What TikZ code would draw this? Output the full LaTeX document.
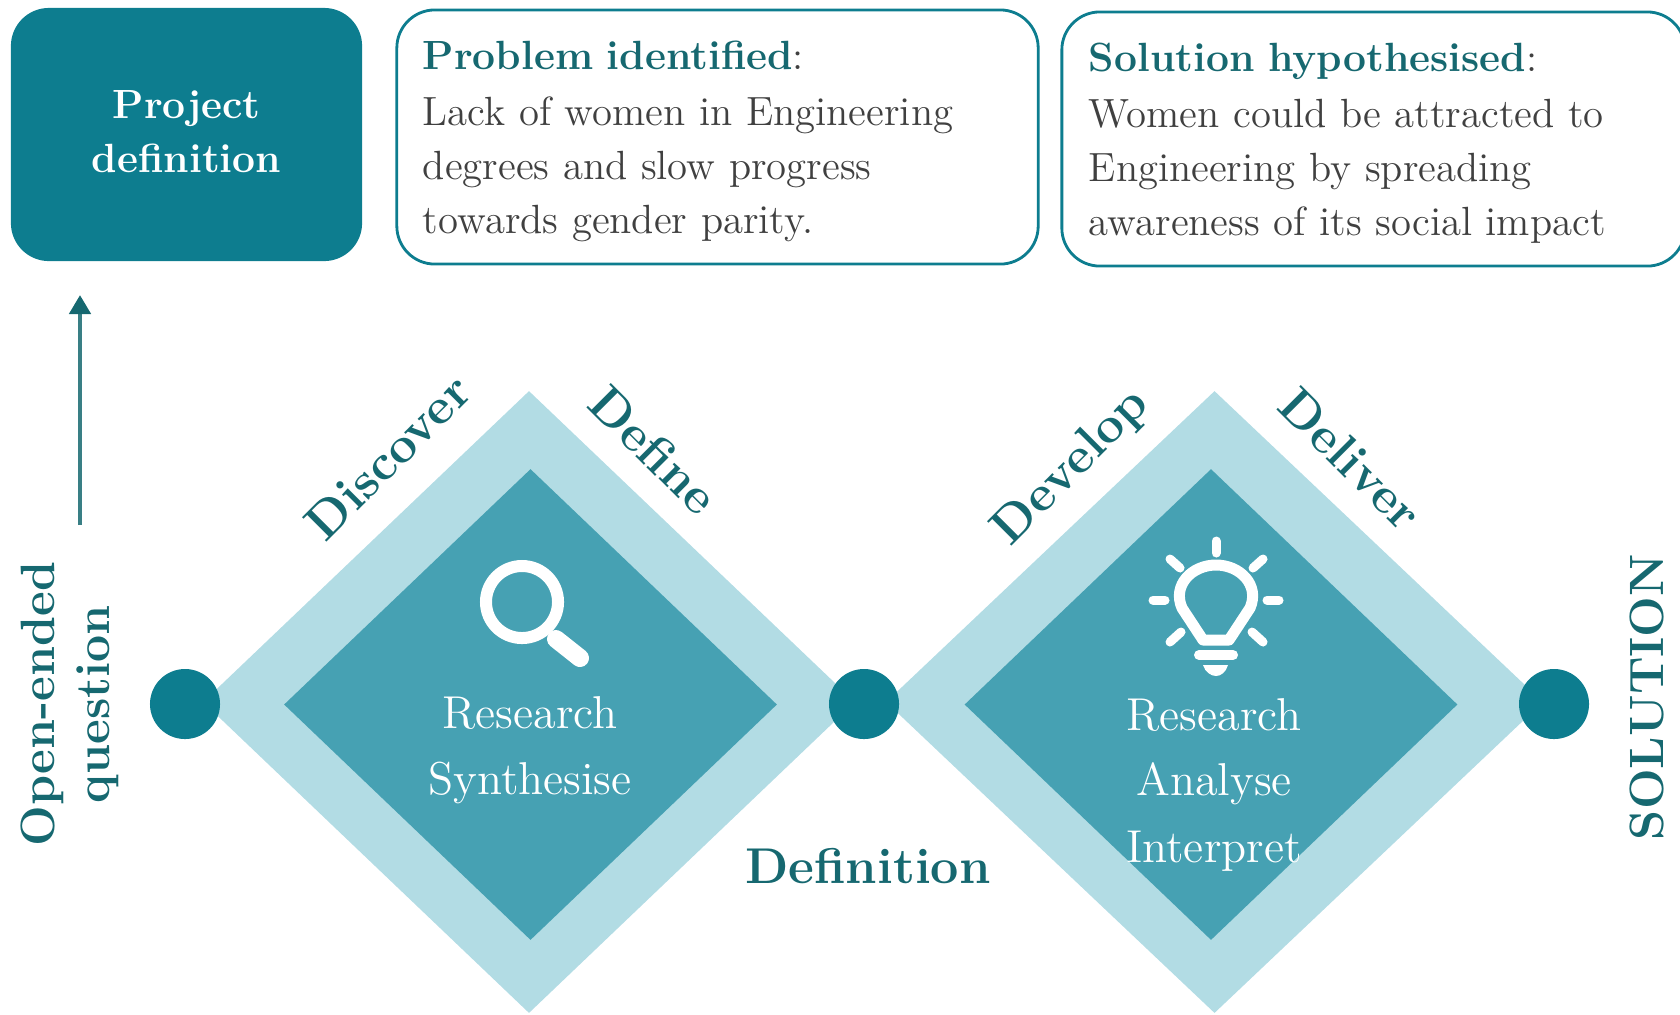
\documentclass[tikz,border=0pt]{standalone}
\usepackage{xcolor}
\usetikzlibrary{shapes.geometric,arrows.meta}
\definecolor{TealBox}{RGB}{13,125,143}
\definecolor{TealText}{RGB}{22,104,112}
\definecolor{DiamondLight}{RGB}{178,220,228}
\definecolor{DiamondMid}{RGB}{70,161,179}

\begin{document}
\begin{tikzpicture}[
                x=0.01cm, y=-0.01cm,
                % Styles for boxes
                headbox/.style={rectangle, rounded corners=0.38cm, fill=TealBox, text=white, font=\fontsize{11.6}{15.3}\selectfont\bfseries, align=center, minimum width=3.51cm, minimum height=2.53cm, inner sep=0pt},
                textbox/.style={rectangle, rounded corners=0.38cm, draw=TealBox, fill=white, line width=0.8pt, text=black!75, font=\fontsize{11.6}{15.3}\selectfont, align=left, minimum height=2.54cm, inner sep=0pt},
                % Styles for diamonds
                outerdiamond/.style={diamond, fill=DiamondLight, aspect=1.048, minimum width=6.52cm, minimum height=6.22cm, inner sep=0pt},
                innerdiamond/.style={diamond, fill=DiamondMid, aspect=1.047, minimum width=4.93cm, minimum height=4.71cm, inner sep=0pt},
                dotnode/.style={circle, fill=TealBox, minimum size=0.7cm, inner sep=0pt},
                % Styles for text
                phase/.style={text=TealText, font=\fontsize{14.3}{16}\selectfont\bfseries, inner sep=0pt},
                inlabel/.style={text=white, font=\fontsize{13.1}{15}\selectfont, inner sep=0pt},
                sidelabel/.style={text=TealText, font=\fontsize{13.7}{15.5}\selectfont\bfseries, align=center, inner sep=0pt, rotate=90},
                arrowedge/.style={-{Triangle[length=0.19cm,width=0.21cm,color=TealText]}, draw=TealText!85!white, line width=1.3pt},
                iconline/.style={draw=white, line width=0.09cm, line cap=round}
            ]
                \useasboundingbox (0,0) rectangle (1680,1014);

                % --- TOP BOXES ---
                \node[headbox] (project) at (186.5,134.5) {Project\\definition\rule[-1.8pt]{0pt}{1.8pt}};
                \node[textbox, minimum width=6.41cm, text width=5.89cm] (problem) at (717.5,137) {\rule{0pt}{10.5pt}{\bfseries\color{TealText}Problem identified}:\\[0.6pt]Lack of women in Engineering\\degrees and slow progress\\towards gender parity.};
                \node[textbox, minimum width=6.23cm, text width=5.69cm] (solution) at (1373.5,139) {\rule{0pt}{10.5pt}{\bfseries\color{TealText}Solution hypothesised}:\\[0.6pt]Women could be attracted to\\Engineering by spreading\\awareness of its social impact};

                % --- ARROW ---
                \coordinate (arrowstart) at (80,525);
                \coordinate (arrowend) at (80,295);
                \draw[arrowedge] (arrowstart) -- (arrowend);

                % --- DIAMONDS ---
                \node[outerdiamond] (outerA) at (529,702) {};
                \node[innerdiamond] (innerA) at (530.5,704.5) {};
                \node[outerdiamond, aspect=1.056, minimum width=6.57cm] (outerB) at (1214.5,702) {};
                \node[innerdiamond] (innerB) at (1211,704.5) {};

                % --- DOTS ---
                \node[dotnode] (dotstart) at (185,704) {};
                \node[dotnode] (dotmid) at (864,704) {};
                \node[dotnode] (dotend) at (1554,704) {};

                % --- PHASE LABELS ---
                \node[phase, rotate=45] (discover) at (388,457) {Discover};
                \node[phase, rotate=-45] (define) at (654,450) {Define};
                \node[phase, rotate=45] (develop) at (1072,468) {Develop};
                \node[phase, rotate=-45] (deliver) at (1351,459) {Deliver};
                \node[phase] (definition) at (868,866) {Definition};
                \node[sidelabel] (question) at (70,704) {Open-ended\\question};
                \node[sidelabel] (result) at (1647,697) {SOLUTION};

                % --- TEXT IN DIAMONDS ---
                \node[inlabel] (researchA) at (530,713) {Research};
                \node[inlabel] (synthesise) at (530,783) {Synthesise};
                \node[inlabel] (researchB) at (1214,715) {Research};
                \node[inlabel] (analyse) at (1214,784) {Analyse};
                \node[inlabel] (interpret) at (1214,851) {Interpret};

                % --- ICONS ---
                % Magnifier
                \draw[draw=white, line width=0.12cm] (522,602) circle[radius=0.36cm];
                \draw[draw=white, line width=0.18cm, line cap=round] (556,639) -- (580,658);

                % Bulb
                \draw[draw=white, line width=0.11cm, line join=round] (1203,640) -- (1182,608) .. controls (1172,585) and (1192,565) .. (1216,565) .. controls (1240,565) and (1260,585) .. (1250,608) -- (1229,640) -- cycle;
                \draw[iconline, line width=0.1cm] (1199,655) -- (1233,655);
                \fill[white] (1203,665) -- (1228,665) .. controls (1226,672) and (1221,676) .. (1216,676) .. controls (1211,676) and (1205,672) .. (1203,665) -- cycle;
                \draw[iconline] (1216,541) -- (1216,553);
                \draw[iconline] (1170,559) -- (1180,568); \draw[iconline] (1263,559) -- (1253,568);
                \draw[iconline] (1153,600) -- (1165,600); \draw[iconline] (1267,600) -- (1279,600);
                \draw[iconline] (1170,642) -- (1181,632); \draw[iconline] (1263,642) -- (1252,632);
            \end{tikzpicture}
\end{document}
